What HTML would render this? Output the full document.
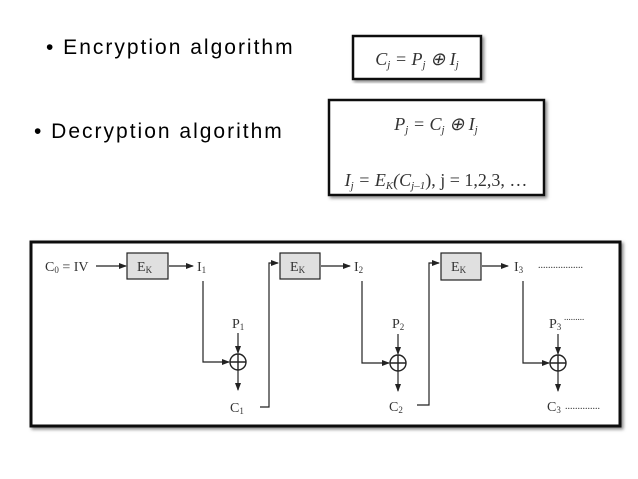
<!DOCTYPE html>
<html><head><style>
body{margin:0;width:638px;height:479px;background:#fff;overflow:hidden;position:relative;font-family:"Liberation Sans",sans-serif}
.b{position:absolute;font-size:21px;color:#000;letter-spacing:2px}
</style></head><body>
<div class="b" style="left:46px;top:36px">•&nbsp;Encryption algorithm</div>
<div class="b" style="left:34px;top:120px">•&nbsp;Decryption algorithm</div>
<svg width="638" height="479" style="position:absolute;left:0;top:0" font-family="Liberation Serif,serif">
<defs><marker id="a" markerWidth="8" markerHeight="6" refX="7" refY="3" orient="auto" markerUnits="userSpaceOnUse"><path d="M0,0L8,3L0,6z" fill="#222"/></marker>
<filter id="s"><feDropShadow dx="2" dy="2" stdDeviation="1.5" flood-color="#888"/></filter></defs>
<rect x="353" y="36" width="128" height="43" fill="#fff" stroke="#111" stroke-width="2.5" filter="url(#s)"/>
<text x="417" y="65" font-size="18" font-style="italic" text-anchor="middle" fill="#333">C<tspan font-size="11" dy="3">j</tspan><tspan dy="-3"> = P</tspan><tspan font-size="11" dy="3">j</tspan><tspan dy="-3"> ⊕ I</tspan><tspan font-size="11" dy="3">j</tspan></text>
<rect x="329" y="100" width="215" height="95" fill="#fff" stroke="#111" stroke-width="2.5" filter="url(#s)"/>
<text x="436" y="130" font-size="18" font-style="italic" text-anchor="middle" fill="#333">P<tspan font-size="11" dy="3">j</tspan><tspan dy="-3"> = C</tspan><tspan font-size="11" dy="3">j</tspan><tspan dy="-3"> ⊕ I</tspan><tspan font-size="11" dy="3">j</tspan></text>
<text x="436" y="186" font-size="18" text-anchor="middle" fill="#333"><tspan font-style="italic">I</tspan><tspan font-size="11" dy="3" font-style="italic">j</tspan><tspan dy="-3" font-style="italic"> = E</tspan><tspan font-size="11" dy="3" font-style="italic">K</tspan><tspan dy="-3" font-style="italic">(C</tspan><tspan font-size="11" dy="3" font-style="italic">j–1</tspan><tspan dy="-3">),  j = 1,2,3, …</tspan></text>
<rect x="31" y="242" width="589" height="184" fill="#fff" stroke="#111" stroke-width="3" filter="url(#s)"/>
<g font-size="14" fill="#333" stroke="#222" stroke-width="1.2">
<text x="45" y="271" stroke="none">C<tspan font-size="9" dy="2">0</tspan><tspan dy="-2"> = IV</tspan></text>
<line x1="96" y1="266" x2="126" y2="266" marker-end="url(#a)"/>
<g fill="#e0e0e0"><rect x="127" y="253" width="41" height="26"/><rect x="280" y="253" width="40" height="26"/><rect x="441" y="253" width="40" height="27"/></g>
<text x="137" y="271" stroke="none">E<tspan font-size="9" dy="2">K</tspan></text>
<text x="290" y="271" stroke="none">E<tspan font-size="9" dy="2">K</tspan></text>
<text x="451" y="271" stroke="none">E<tspan font-size="9" dy="2">K</tspan></text>
<line x1="169" y1="266" x2="193" y2="266" marker-end="url(#a)"/>
<line x1="321" y1="266" x2="350" y2="266" marker-end="url(#a)"/>
<line x1="482" y1="266" x2="508" y2="266" marker-end="url(#a)"/>
<text x="197" y="271" stroke="none">I<tspan font-size="9" dy="2">1</tspan></text>
<text x="354" y="271" stroke="none">I<tspan font-size="9" dy="2">2</tspan></text>
<text x="514" y="271" stroke="none">I<tspan font-size="9" dy="2">3</tspan></text>
<text x="538" y="268" stroke="none" font-size="10">..................</text>
<g fill="none">
<polyline points="203,281 203,362 229,362" marker-end="url(#a)"/>
<polyline points="362,281 362,363 389,363" marker-end="url(#a)"/>
<polyline points="523,281 523,363 549,363" marker-end="url(#a)"/>
<polyline points="260,407 269,407 269,263 278,263" marker-end="url(#a)"/>
<polyline points="417,405 429,405 429,263 439,263" marker-end="url(#a)"/>
<g stroke-width="1.4"><circle cx="238" cy="362" r="8"/><circle cx="398" cy="363" r="8"/><circle cx="558" cy="363" r="8"/>
<path d="M230,362h16M238,354v16M390,363h16M398,355v16M550,363h16M558,355v16"/></g>
</g>
<text x="232" y="328" stroke="none">P<tspan font-size="9" dy="2">1</tspan></text>
<text x="392" y="328" stroke="none">P<tspan font-size="9" dy="2">2</tspan></text>
<text x="549" y="328" stroke="none">P<tspan font-size="9" dy="2">3</tspan></text>
<text x="564" y="320" stroke="none" font-size="9">.........</text>
<line x1="238" y1="333" x2="238" y2="353" marker-end="url(#a)"/>
<line x1="398" y1="334" x2="398" y2="354" marker-end="url(#a)"/>
<line x1="558" y1="334" x2="558" y2="354" marker-end="url(#a)"/>
<line x1="238" y1="370" x2="238" y2="390" marker-end="url(#a)"/>
<line x1="398" y1="371" x2="398" y2="391" marker-end="url(#a)"/>
<line x1="558" y1="371" x2="558" y2="391" marker-end="url(#a)"/>
<text x="230" y="412" stroke="none">C<tspan font-size="9" dy="2">1</tspan></text>
<text x="389" y="411" stroke="none">C<tspan font-size="9" dy="2">2</tspan></text>
<text x="547" y="411" stroke="none">C<tspan font-size="9" dy="2">3</tspan></text>
<text x="565" y="409" stroke="none" font-size="10">..............</text>
</g>
</svg>
</body></html>
